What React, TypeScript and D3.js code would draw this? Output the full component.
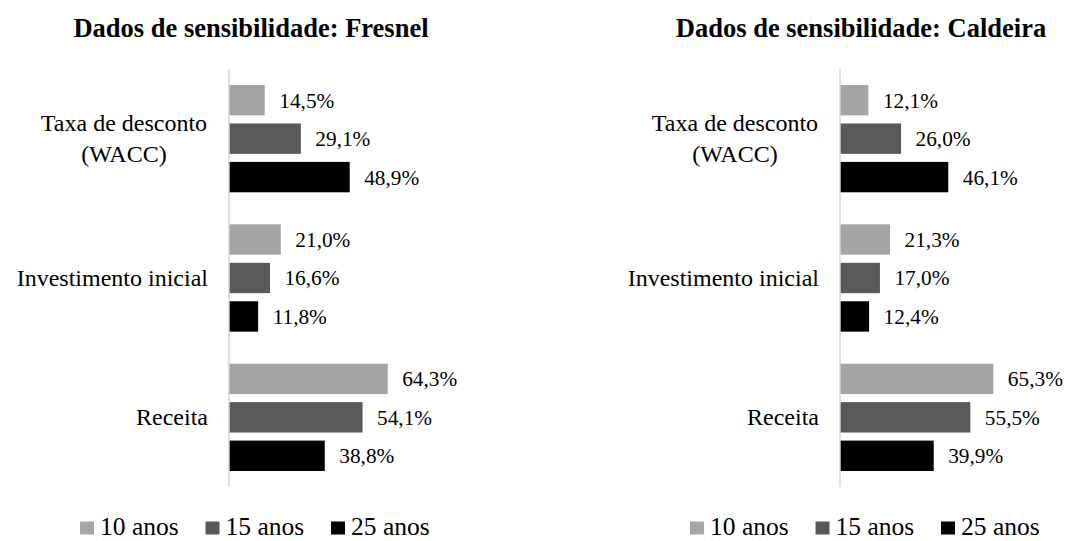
import React from 'react';
import * as d3 from 'd3';

// categories (tick labels, split into lines as in the original)
const categories = ['Taxa de desconto (WACC)', 'Investimento inicial', 'Receita'];
const categoryLines = [['Taxa de desconto', '(WACC)'], ['Investimento inicial'], ['Receita']];
const seriesNames = ['10 anos', '15 anos', '25 anos'];
const seriesColors = ['#a5a5a5', '#595959', '#000000'];

// values in %
const fresnel10 = [14.5, 21.0, 64.3];
const fresnel15 = [29.1, 16.6, 54.1];
const fresnel25 = [48.9, 11.8, 38.8];
const caldeira10 = [12.1, 21.3, 65.3];
const caldeira15 = [26.0, 17.0, 55.5];
const caldeira25 = [46.1, 12.4, 39.9];

const ptBR = d3.formatLocale({ decimal: ',', thousands: '.', grouping: [3], currency: ['R$', ''] });
const fmt = ptBR.format('.1%');

const FONT = '"Liberation Serif", "Times New Roman", serif';

const W = 1065;
const H = 541;
const TOP = 69;
const BOTTOM = 487;

const Panel = ({ title, series, axisX, plotW, titleX, legendX }) => {
  const x = d3.scaleLinear().domain([0, 0.7]).range([axisX, axisX + plotW]);
  const y0 = d3.scaleBand().domain(categories).range([TOP, BOTTOM]).paddingInner(0.23).paddingOuter(0.115);
  const y1 = d3.scaleBand().domain(seriesNames).range([0, y0.bandwidth()]).paddingInner(0.21);

  return (
    <g>
      <text x={titleX} y={37} textAnchor="middle" fontFamily={FONT} fontWeight="bold" fontSize={26.5} fill="#000">
        {title}
      </text>
      {categories.map((c, ci) => (
        <g key={c} transform={`translate(0,${y0(c)})`}>
          {seriesNames.map((s, si) => {
            const v = series[si][ci] / 100;
            const by = y1(s);
            return (
              <g key={s}>
                <rect x={x(0)} y={by} width={x(v) - x(0)} height={y1.bandwidth()} fill={seriesColors[si]} />
                <text x={x(v) + 14.5} y={by + y1.bandwidth() / 2 + 7.5} fontFamily={FONT} fontSize={21.3} fill="#000">
                  {fmt(v)}
                </text>
              </g>
            );
          })}
        </g>
      ))}
      {categories.map((c, ci) => {
        const lines = categoryLines[ci];
        const n = lines.length;
        const center = y0(c) + y0.bandwidth() / 2;
        return (
          <text key={c} fontFamily={FONT} fontSize={24} fill="#000">
            {lines.map((line, li) => (
              <tspan
                key={li}
                x={axisX - 21 - (n > 1 ? 84 : 0)}
                y={center + 8 + (li - (n - 1) / 2) * 30.5}
                textAnchor={n > 1 ? 'middle' : 'end'}
              >
                {line}
              </tspan>
            ))}
          </text>
        );
      })}
      <line x1={axisX} x2={axisX} y1={TOP} y2={BOTTOM} stroke="#d4d4d4" strokeWidth={1.5} />
      {seriesNames.map((s, si) => (
        <g key={s} transform={`translate(${legendX + si * 125.5},0)`}>
          <rect x={0} y={521.5} width={14} height={13} fill={seriesColors[si]} />
          <text x={20} y={535} fontFamily={FONT} fontSize={25.5} fill="#000">
            {s}
          </text>
        </g>
      ))}
    </g>
  );
};

export default function App() {
  return (
    <svg width={W} height={H} style={{ position: 'absolute', left: 0, top: 0, background: '#fff' }}>
      <rect width={W} height={H} fill="#fff" />
      <Panel
        title="Dados de sensibilidade: Fresnel"
        series={[fresnel10, fresnel15, fresnel25]}
        axisX={229}
        plotW={172.8}
        titleX={251}
        legendX={80}
      />
      <Panel
        title="Dados de sensibilidade: Caldeira"
        series={[caldeira10, caldeira15, caldeira25]}
        axisX={840}
        plotW={164.4}
        titleX={861}
        legendX={690}
      />
    </svg>
  );
}
